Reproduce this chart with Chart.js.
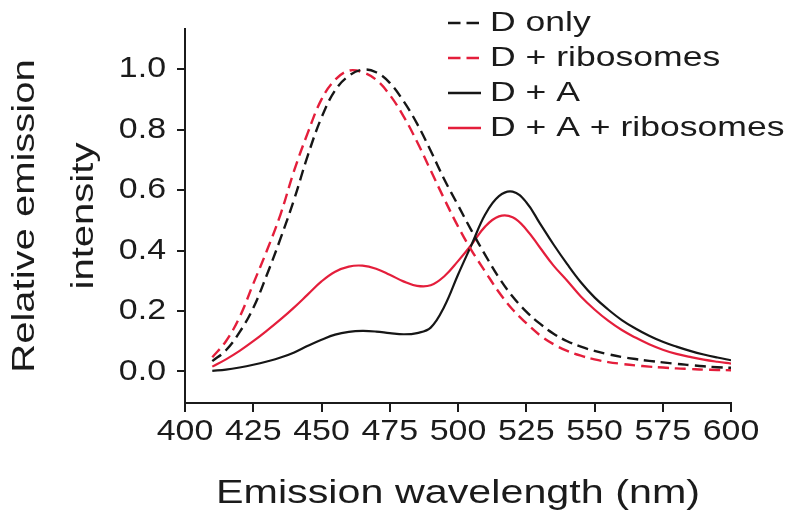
<!DOCTYPE html>
<html>
<head>
<meta charset="utf-8">
<script src="https://cdn.jsdelivr.net/npm/chart.js@4.4.1/dist/chart.umd.min.js"></script>
<style>
  html, body { margin: 0; padding: 0; background: #fff; }
  #chart { display: block; }
</style>
</head>
<body>
<canvas id="chart" width="786" height="523"></canvas>
<script>
// emission wavelength (nm), one sample every 5 nm
const wavelengths = [410, 415, 420, 425, 430, 435, 440, 445, 450, 455, 460, 465, 470,
    475, 480, 485, 490, 495, 500, 505, 510, 515, 520, 525, 530, 535, 540, 545, 550,
    555, 560, 565, 570, 575, 580, 585, 590, 595, 600];

// relative emission intensity
const dOnly = [0.034, 0.07, 0.13, 0.21, 0.32, 0.44, 0.57, 0.715, 0.84, 0.93, 0.978, 0.998, 0.99,
    0.955, 0.895, 0.82, 0.73, 0.635, 0.55, 0.465, 0.385, 0.31, 0.248, 0.198, 0.158, 0.125, 0.10, 0.082, 0.068,
    0.057, 0.048, 0.041, 0.035, 0.03, 0.025, 0.021, 0.017, 0.014, 0.012];
const dRibosomes = [0.047, 0.10, 0.18, 0.29, 0.40, 0.52, 0.665, 0.79, 0.90, 0.965, 0.995, 0.99, 0.965,
    0.915, 0.845, 0.76, 0.665, 0.57, 0.48, 0.40, 0.33, 0.262, 0.205, 0.16, 0.12, 0.09, 0.068, 0.052, 0.04,
    0.031, 0.025, 0.02, 0.016, 0.013, 0.01, 0.008, 0.006, 0.005, 0.004];
const dA = [0.002, 0.006, 0.013, 0.022, 0.033, 0.046, 0.063, 0.085, 0.105, 0.122, 0.131, 0.134, 0.132,
    0.127, 0.123, 0.127, 0.145, 0.215, 0.32, 0.42, 0.52, 0.58, 0.595, 0.56, 0.49, 0.42, 0.355, 0.295, 0.245,
    0.205, 0.17, 0.142, 0.118, 0.098, 0.082, 0.068, 0.056, 0.046, 0.037];
const dARibosomes = [0.016, 0.04, 0.068, 0.10, 0.135, 0.172, 0.212, 0.255, 0.298, 0.33, 0.347, 0.35, 0.34,
    0.32, 0.298, 0.283, 0.285, 0.315, 0.365, 0.42, 0.48, 0.513, 0.51, 0.47, 0.41, 0.35, 0.30, 0.248, 0.205,
    0.168, 0.137, 0.112, 0.09, 0.072, 0.058, 0.048, 0.039, 0.032, 0.026];

const seriesLabels = ['D only', 'D + ribosomes', 'D + A', 'D + A + ribosomes'];
const xTicks = [400, 425, 450, 475, 500, 525, 550, 575, 600];
const yTicks = [0, 0.2, 0.4, 0.6, 0.8, 1.0];

const ink = '#1b1b1b';
const red = '#e41e3b';
const family = '"Liberation Sans", Arial, Helvetica, sans-serif';
const tickSize = 30;

function toPoints(values) {
    return wavelengths.map((x, i) => ({ x: x, y: values[i] }));
}

// the figure's lettering is horizontally widened, so stretch every fillText
// along its reading direction (a bit less for the tick numbers)
function widenText(ctx) {
    const fill = ctx.fillText;
    ctx.fillText = function (text, x, y) {
        const m = /(\d+(\.\d+)?)px/.exec(this.font);
        const size = m ? parseFloat(m[1]) : 0;
        const sx = size === tickSize ? 1.13 : 1.27;
        this.save();
        this.translate(x, y);
        this.scale(sx, 1);
        fill.call(this, text, 0, 0);
        this.restore();
    };
}

// legend sits in the top right corner, stacked, with line samples
const lineLegend = {
    id: 'lineLegend',
    afterDraw(chart) {
        const ctx = chart.ctx;
        ctx.save();
        ctx.font = '28px ' + family;
        ctx.textBaseline = 'middle';
        ctx.textAlign = 'left';
        chart.data.datasets.forEach((ds, i) => {
            const y = 23 + i * 35;
            ctx.strokeStyle = ds.borderColor;
            ctx.lineWidth = 2.4;
            ctx.setLineDash(ds.borderDash && ds.borderDash.length ? [12.5, 6] : []);
            ctx.beginPath();
            ctx.moveTo(448, y);
            ctx.lineTo(481, y);
            ctx.stroke();
            ctx.fillStyle = ink;
            ctx.fillText(ds.label, 490, y);
        });
        ctx.restore();
    }
};

const ctx = document.getElementById('chart').getContext('2d');
widenText(ctx);

const chart = new Chart(ctx, {
    type: 'line',
    data: {
        datasets: [
            { label: seriesLabels[0], data: toPoints(dOnly), borderColor: '#161616', borderWidth: 2.4, borderDash: [11, 6] },
            { label: seriesLabels[1], data: toPoints(dRibosomes), borderColor: red, borderWidth: 2.4, borderDash: [11, 6] },
            { label: seriesLabels[2], data: toPoints(dA), borderColor: '#161616', borderWidth: 2.2, borderDash: [] },
            { label: seriesLabels[3], data: toPoints(dARibosomes), borderColor: red, borderWidth: 2.2, borderDash: [] }
        ]
    },
    options: {
        responsive: false,
        devicePixelRatio: 1,
        animation: false,
        layout: { padding: { top: 12, right: 55, left: 0, bottom: 0 } },
        elements: {
            point: { radius: 0 },
            line: { tension: 0.4, fill: false }
        },
        plugins: {
            legend: { display: false },
            tooltip: { enabled: false }
        },
        scales: {
            x: {
                type: 'linear',
                min: 400,
                max: 600,
                afterBuildTicks: (s) => { s.ticks = xTicks.map(v => ({ value: v })); },
                afterFit: (s) => { s.height = 120; },
                grid: { drawOnChartArea: false, tickLength: 9, color: ink, lineWidth: 2 },
                border: { color: ink, width: 2 },
                ticks: {
                    color: ink,
                    font: { family: family, size: tickSize },
                    padding: 2,
                    maxRotation: 0,
                    autoSkip: false,
                    callback: (v) => String(v)
                },
                title: {
                    display: true,
                    text: 'Emission wavelength (nm)',
                    color: ink,
                    font: { family: family, size: 32.5 },
                    padding: { top: 0, bottom: 9 }
                }
            },
            y: {
                type: 'linear',
                min: -0.1044,
                max: 1.133,
                afterBuildTicks: (s) => { s.ticks = yTicks.map(v => ({ value: v })); },
                afterFit: (s) => { s.width = 185; },
                grid: { drawOnChartArea: false, tickLength: 8, color: ink, lineWidth: 2 },
                border: { color: ink, width: 2 },
                ticks: {
                    color: ink,
                    font: { family: family, size: tickSize },
                    padding: 11,
                    callback: (v) => v.toFixed(1)
                },
                title: {
                    display: true,
                    text: ['Relative emission', 'intensity'],
                    color: ink,
                    font: { family: family, size: 31.5, lineHeight: 1.9 },
                    padding: { top: -5, bottom: 0 }
                }
            }
        }
    },
    plugins: [lineLegend]
});
</script>
</body>
</html>
